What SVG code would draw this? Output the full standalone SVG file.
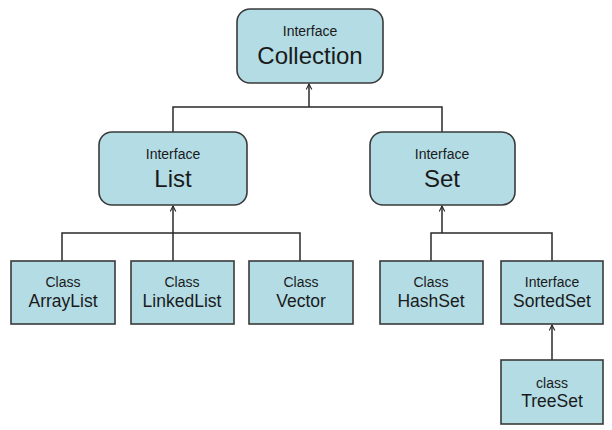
<svg xmlns="http://www.w3.org/2000/svg" width="612" height="430" viewBox="0 0 612 430">
<style>
.box{fill:#b3dce5;stroke:#3a3a3a;stroke-width:1.6}
.line{fill:none;stroke:#2a2a2a;stroke-width:1.5}
text{font-family:"Liberation Sans",Arial,sans-serif;fill:#1a1a1a;text-anchor:middle}
.s{font-size:14px}
.l{font-size:24px}
.m{font-size:17.5px}
</style>
<defs>
<marker id="arr" viewBox="0 0 10 10" refX="9" refY="5" markerWidth="7" markerHeight="7" orient="auto" markerUnits="userSpaceOnUse">
<path d="M1,1 L9,5 L1,9" fill="none" stroke="#2a2a2a" stroke-width="1.6"/>
</marker>
</defs>
<rect width="612" height="430" fill="#ffffff"/>
<g id="connectors">
<path class="line" d="M173,132 V107 H442 V132"/>
<path class="line" d="M309,107 V84" marker-end="url(#arr)"/>
<path class="line" d="M62,261 V233 H300 V261"/>
<path class="line" d="M173,261 V206" marker-end="url(#arr)"/>
<path class="line" d="M431,261 V233 H552 V261"/>
<path class="line" d="M442,233 V206" marker-end="url(#arr)"/>
<path class="line" d="M552,360 V325" marker-end="url(#arr)"/>
</g>
<g id="collection">
<rect class="box" x="237" y="9" width="146" height="74" rx="13"/>
<text class="s" x="310" y="36">Interface</text>
<text class="l" x="310" y="64">Collection</text>
</g>
<g id="list">
<rect class="box" x="99" y="132" width="148" height="73" rx="13"/>
<text class="s" x="173" y="159">Interface</text>
<text class="l" x="173" y="187">List</text>
</g>
<g id="set">
<rect class="box" x="370" y="132" width="145" height="73" rx="13"/>
<text class="s" x="442" y="159">Interface</text>
<text class="l" x="442" y="187">Set</text>
</g>
<g id="arraylist">
<rect class="box" x="11" y="261" width="104" height="63"/>
<text class="s" x="63" y="287">Class</text>
<text class="m" x="63" y="307">ArrayList</text>
</g>
<g id="linkedlist">
<rect class="box" x="131" y="261" width="103" height="63"/>
<text class="s" x="182" y="287">Class</text>
<text class="m" x="182" y="307">LinkedList</text>
</g>
<g id="vector">
<rect class="box" x="249" y="261" width="104" height="63"/>
<text class="s" x="301" y="287">Class</text>
<text class="m" x="301" y="307">Vector</text>
</g>
<g id="hashset">
<rect class="box" x="380" y="261" width="103" height="63"/>
<text class="s" x="431" y="287">Class</text>
<text class="m" x="431" y="307">HashSet</text>
</g>
<g id="sortedset">
<rect class="box" x="501" y="261" width="102" height="63"/>
<text class="s" x="552" y="287">Interface</text>
<text class="m" x="552" y="307">SortedSet</text>
</g>
<g id="treeset">
<rect class="box" x="501" y="360" width="102" height="64"/>
<text class="s" x="552" y="388">class</text>
<text class="m" x="552" y="407">TreeSet</text>
</g>
</svg>
